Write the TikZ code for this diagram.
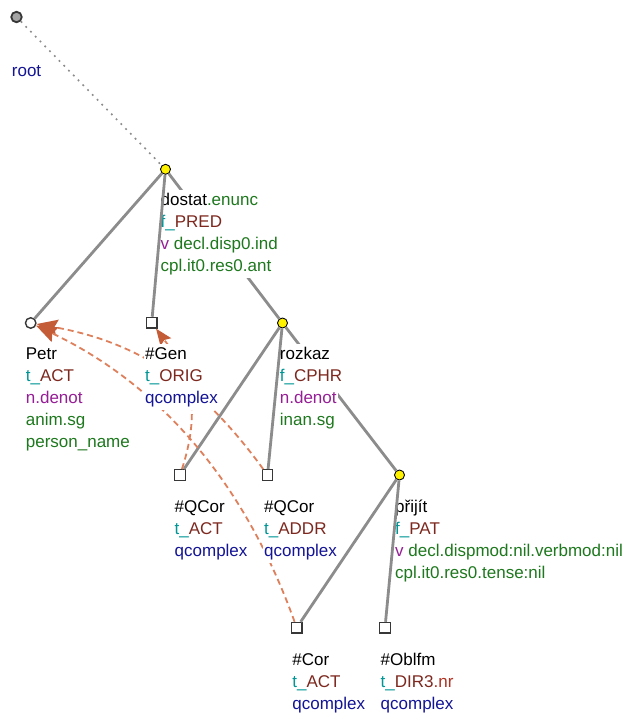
\documentclass[tikz,border=0pt]{standalone}
\usepackage{fontspec}
\setmainfont{Liberation Sans}
\usetikzlibrary{arrows.meta}
\definecolor{tealc}{RGB}{0,150,150}
\definecolor{brownc}{RGB}{125,40,30}
\definecolor{purpc}{RGB}{150,30,150}
\definecolor{greenc}{RGB}{30,120,30}
\definecolor{bluec}{RGB}{20,20,150}
\definecolor{redc}{RGB}{175,50,35}
\definecolor{edgec}{RGB}{140,140,140}
\definecolor{corefc}{RGB}{222,128,92}
\definecolor{tipc}{RGB}{196,92,56}
\definecolor{bordc}{RGB}{55,55,55}
\newcommand\Ln[1]{\hbox{\setlength{\fboxsep}{0pt}\colorbox{white}{\rule[-6.6pt]{0pt}{22pt}\hspace{1pt}#1\hspace{1pt}}}}
\newcommand\Stack[1]{\vtop{\baselineskip=22pt\lineskip=0pt\lineskiplimit=-50pt #1}}
\newcommand\Tf[2]{\textcolor{tealc}{#1\_}\textcolor{brownc}{#2}}
\newcommand\Gr[1]{\textcolor{greenc}{#1}}
\newcommand\Pu[1]{\textcolor{purpc}{#1}}
\newcommand\Bl[1]{\textcolor{bluec}{#1}}
\tikzset{
  lab/.style={anchor=base west, inner sep=0pt, font=\fontsize{17}{22}\selectfont},
  tnode/.style={circle, fill=yellow, draw=black, line width=0.9pt, minimum size=10pt, inner sep=0pt},
  qnode/.style={rectangle, fill=white, draw=bordc, line width=1.4pt, minimum size=10.5pt, inner sep=0pt},
  onode/.style={circle, fill=white, draw=bordc, line width=1.4pt, minimum size=10.5pt, inner sep=0pt},
  rnode/.style={circle, fill={rgb,255:red,165;green,165;blue,165}, draw=bordc, line width=1.8pt, minimum size=10.5pt, inner sep=0pt},
  tedge/.style={draw=edgec, line width=2.8pt},
  dotedge/.style={draw=edgec, line width=1.6pt, dash pattern=on 1.8pt off 5pt},
  coref/.style={draw=corefc, line width=1.8pt, dash pattern=on 6pt off 4pt,
    -{Stealth[length=21pt,width=16pt,inset=3pt,color=tipc]}},
  corefs/.style={coref, -{Stealth[length=16.5pt,width=13pt,inset=2.5pt,color=tipc]}}
}
\begin{document}
\begin{tikzpicture}[x=1pt,y=-1pt]
\fill[white] (0,0) rectangle (628,713);
\useasboundingbox (0,0) rectangle (628,713);
% tree nodes
\node[rnode] (root) at (16.5,17) {};
\node[tnode] (dostat) at (165.5,169.3) {};
\node[onode] (petr) at (30.7,323) {};
\node[qnode] (gen) at (151.7,322.7) {};
\node[tnode] (rozkaz) at (282.5,323) {};
\node[qnode] (qa) at (180,475) {};
\node[qnode] (qd) at (267.5,475) {};
\node[tnode] (prijit) at (399.5,475) {};
\node[qnode] (cor) at (296.7,627.7) {};
\node[qnode] (obl) at (385,627.7) {};
% back edges
\draw[dotedge] (root) -- (dostat);
\draw[tedge] (dostat) -- (petr);
\draw[tedge] (dostat) -- (rozkaz);
\draw[tedge] (rozkaz) -- (qa);
\draw[tedge] (rozkaz) -- (prijit);
\draw[tedge] (prijit) -- (cor);
% coreference arrows
\draw[corefs] (qa) .. controls (208,389) and (176,356) .. (gen);
\draw[coref] (qd) .. controls (205,389) and (144,343) .. (petr);
\draw[coref] (cor) .. controls (240,470) and (150,380) .. (petr);
% labels
\node[lab] (rootL) at (10.7,76) {\Stack{\Ln{\Bl{root}}}};
\node[lab] (dostatL) at (159.5,205.5) {\Stack{\Ln{dostat\Gr{.enunc}}\Ln{\Tf{f}{PRED}}\Ln{\Pu{v} \Gr{decl.disp0.ind}}\Ln{\Gr{cpl.it0.res0.ant}}}};
\node[lab] (petrL) at (24.7,359) {\Stack{\Ln{Petr}\Ln{\Tf{t}{ACT}}\Ln{\Pu{n.denot}}\Ln{\Gr{anim.sg}}\Ln{\Gr{person\_name}}}};
\node[lab] (genL) at (144,359) {\Stack{\Ln{\#Gen}\Ln{\Tf{t}{ORIG}}\Ln{\Bl{qcomplex}}}};
\node[lab] (rozkazL) at (278.7,359) {\Stack{\Ln{rozkaz}\Ln{\Tf{f}{CPHR}}\Ln{\Pu{n.denot}}\Ln{\Gr{inan.sg}}}};
\node[lab] (qaL) at (173.5,512) {\Stack{\Ln{\#QCor}\Ln{\Tf{t}{ACT}}\Ln{\Bl{qcomplex}}}};
\node[lab] (qdL) at (263,512) {\Stack{\Ln{\#QCor}\Ln{\Tf{t}{ADDR}}\Ln{\Bl{qcomplex}}}};
\node[lab] (prijitL) at (394,512) {\Stack{\Ln{přijít}\Ln{\Tf{f}{PAT}}\Ln{\Pu{v} \Gr{decl.dispmod:nil.verbmod:nil}}\Ln{\Gr{cpl.it0.res0.tense:nil}}}};
\node[lab] (corL) at (291.2,665) {\Stack{\Ln{\#Cor}\Ln{\Tf{t}{ACT}}\Ln{\Bl{qcomplex}}}};
\node[lab] (oblL) at (379.5,665) {\Stack{\Ln{\#Oblfm}\Ln{\Tf{t}{DIR3}\textcolor{redc}{.nr}}\Ln{\Bl{qcomplex}}}};
% front edges
\draw[tedge] (dostat) -- (gen);
\draw[tedge] (rozkaz) -- (qd);
\draw[tedge] (prijit) -- (obl);
\end{tikzpicture}
\end{document}
